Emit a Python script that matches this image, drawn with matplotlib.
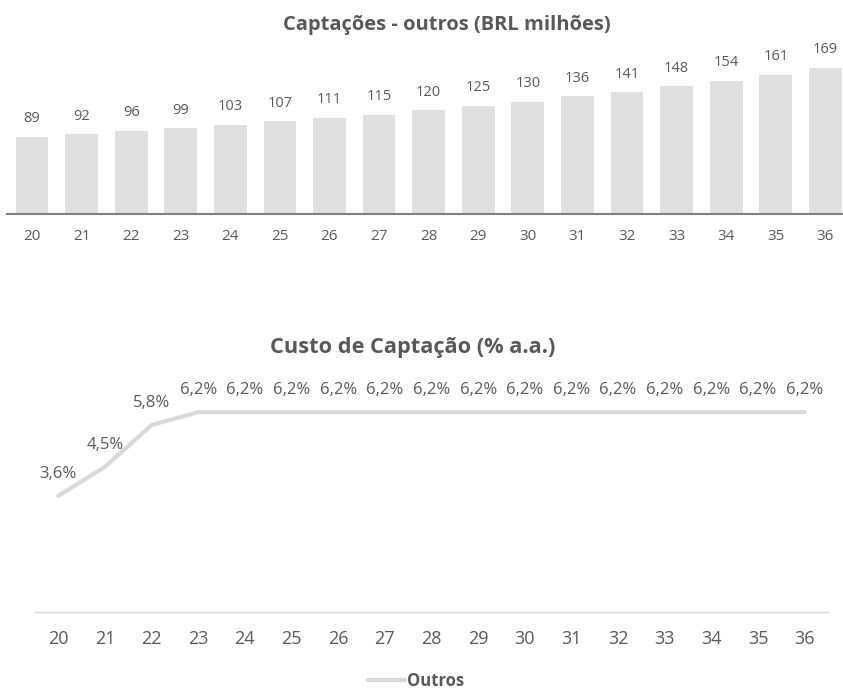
import numpy as np
import matplotlib.pyplot as plt

plt.rcParams["font.family"] = ["Open Sans", "DejaVu Sans"]

anos = ["20", "21", "22", "23", "24", "25", "26", "27", "28",
        "29", "30", "31", "32", "33", "34", "35", "36"]
captacoes = [89, 92, 96, 99, 103, 107, 111, 115, 120,
             125, 130, 136, 141, 148, 154, 161, 169]
custo = [3.6, 4.5, 5.8, 6.2, 6.2, 6.2, 6.2, 6.2, 6.2,
         6.2, 6.2, 6.2, 6.2, 6.2, 6.2, 6.2, 6.2]

texto = "#595959"
x = np.arange(len(anos))

fig = plt.figure(figsize=(8.43, 6.89), dpi=100)

# barras - captacoes
ax1 = fig.add_axes([0.0085, 0.690, 1.0, 0.225])
ax1.bar(x, captacoes, width=0.66, color="#e0e0e0")
for xi, v in zip(x, captacoes):
    ax1.annotate(f"{v}", (xi, v), xytext=(0, 13), textcoords="offset points",
                 ha="center", va="center", fontsize=10.5, color=texto)
ax1.set_xlim(-0.5, 16.5)
ax1.set_ylim(0, 180)
ax1.set_xticks(x)
ax1.set_xticklabels(anos, fontsize=11, color=texto)
ax1.set_yticks([])
ax1.tick_params(axis="x", length=0, pad=11)
for s in ["top", "right", "left"]:
    ax1.spines[s].set_visible(False)
ax1.spines["bottom"].set_color("#808080")
ax1.spines["bottom"].set_linewidth(1.5)
fig.text(0.530, 0.964, "Captações - outros (BRL milhões)", ha="center", va="center",
         fontsize=14.5, fontweight="bold", color=texto)

# linha - custo de captacao
ax2 = fig.add_axes([35 / 843, 0.1122, 793 / 843, 0.327])
ax2.plot(x, custo, color="#d9d9d9", lw=3, solid_capstyle="round", label="Outros")
for xi, v in zip(x, custo):
    ax2.annotate(f"{v:.1f}".replace(".", ",") + "%", (xi, v), xytext=(0, 16),
                 textcoords="offset points", ha="center", va="center",
                 fontsize=12, color=texto)
ax2.set_xlim(-0.5, 16.5)
ax2.set_ylim(0, 7)
ax2.set_xticks(x)
ax2.set_xticklabels(anos, fontsize=13, color=texto)
ax2.set_yticks([])
ax2.tick_params(axis="x", length=0, pad=13)
for s in ["top", "right", "left"]:
    ax2.spines[s].set_visible(False)
ax2.spines["bottom"].set_color("#d9d9d9")
ax2.spines["bottom"].set_linewidth(1)
fig.text(0.490, 0.495, "Custo de Captação (% a.a.)", ha="center", va="center",
         fontsize=15.7, fontweight="bold", color=texto)

leg = fig.legend(loc="center", bbox_to_anchor=(416 / 843, 1 - 681 / 689),
                 frameon=False, handlelength=2.2, handletextpad=0.1,
                 prop={"size": 12, "weight": "bold"})
for t in leg.get_texts():
    t.set_color(texto)

fig.savefig("out.png", dpi=100)
